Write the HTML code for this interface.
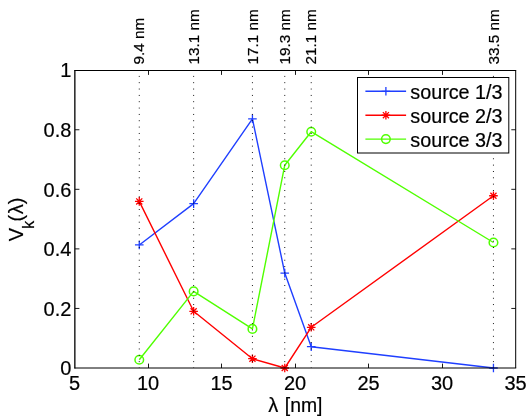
<!DOCTYPE html>
<html><head><meta charset="utf-8"><title>plot</title>
<style>html,body{margin:0;padding:0;background:#fff}svg{display:block}text{font-family:"Liberation Sans",sans-serif;fill:#000;stroke:#000;stroke-width:0.2px}</style></head>
<body>
<svg width="531" height="420" viewBox="0 0 531 420">
<rect width="531" height="420" fill="#fff"/>
<polyline points="139.27,244.95 193.64,203.60 252.43,118.80 284.76,273.10 311.22,346.70 493.45,368.00" fill="none" stroke="#1f3fff" stroke-width="1.4" stroke-linejoin="round"/>
<path d="M134.97 244.95H143.57M139.27 240.65V249.25" stroke="#1f3fff" stroke-width="1.3" fill="none"/>
<path d="M189.34 203.60H197.94M193.64 199.30V207.90" stroke="#1f3fff" stroke-width="1.3" fill="none"/>
<path d="M248.13 118.80H256.73M252.43 114.50V123.10" stroke="#1f3fff" stroke-width="1.3" fill="none"/>
<path d="M280.46 273.10H289.06M284.76 268.80V277.40" stroke="#1f3fff" stroke-width="1.3" fill="none"/>
<path d="M306.92 346.70H315.52M311.22 342.40V351.00" stroke="#1f3fff" stroke-width="1.3" fill="none"/>
<path d="M489.15 368.00H497.75M493.45 363.70V372.30" stroke="#1f3fff" stroke-width="1.3" fill="none"/>
<polyline points="139.27,201.40 193.64,311.30 252.43,358.70 284.76,368.00 311.22,327.30 493.45,195.75" fill="none" stroke="#ff0000" stroke-width="1.4" stroke-linejoin="round"/>
<path d="M134.97 201.40H143.57M139.27 197.10V205.70M136.22 198.36L142.31 204.44M136.22 204.44L142.31 198.36" stroke="#ff0000" stroke-width="1.3" fill="none"/>
<path d="M189.34 311.30H197.94M193.64 307.00V315.60M190.60 308.26L196.68 314.34M190.60 314.34L196.68 308.26" stroke="#ff0000" stroke-width="1.3" fill="none"/>
<path d="M248.13 358.70H256.73M252.43 354.40V363.00M249.39 355.66L255.47 361.74M249.39 361.74L255.47 355.66" stroke="#ff0000" stroke-width="1.3" fill="none"/>
<path d="M280.46 368.00H289.06M284.76 363.70V372.30M281.72 364.96L287.80 371.04M281.72 371.04L287.80 364.96" stroke="#ff0000" stroke-width="1.3" fill="none"/>
<path d="M306.92 327.30H315.52M311.22 323.00V331.60M308.18 324.26L314.26 330.34M308.18 330.34L314.26 324.26" stroke="#ff0000" stroke-width="1.3" fill="none"/>
<path d="M489.15 195.75H497.75M493.45 191.45V200.05M490.41 192.71L496.50 198.79M490.41 198.79L496.50 192.71" stroke="#ff0000" stroke-width="1.3" fill="none"/>
<polyline points="139.27,359.70 193.64,291.40 252.43,328.90 284.76,165.20 311.22,131.70 493.45,242.50" fill="none" stroke="#50ff00" stroke-width="1.4" stroke-linejoin="round"/>
<circle cx="139.27" cy="359.70" r="4.30" stroke="#50ff00" stroke-width="1.5" fill="none"/>
<circle cx="193.64" cy="291.40" r="4.30" stroke="#50ff00" stroke-width="1.5" fill="none"/>
<circle cx="252.43" cy="328.90" r="4.30" stroke="#50ff00" stroke-width="1.5" fill="none"/>
<circle cx="284.76" cy="165.20" r="4.30" stroke="#50ff00" stroke-width="1.5" fill="none"/>
<circle cx="311.22" cy="131.70" r="4.30" stroke="#50ff00" stroke-width="1.5" fill="none"/>
<circle cx="493.45" cy="242.50" r="4.30" stroke="#50ff00" stroke-width="1.5" fill="none"/>
<line x1="139.27" y1="368.0" x2="139.27" y2="70.5" stroke="#000" stroke-width="1" stroke-dasharray="0.9 5.44" stroke-dashoffset="0.45"/>
<line x1="193.64" y1="368.0" x2="193.64" y2="70.5" stroke="#000" stroke-width="1" stroke-dasharray="0.9 5.44" stroke-dashoffset="0.45"/>
<line x1="252.43" y1="368.0" x2="252.43" y2="70.5" stroke="#000" stroke-width="1" stroke-dasharray="0.9 5.44" stroke-dashoffset="0.45"/>
<line x1="284.76" y1="368.0" x2="284.76" y2="70.5" stroke="#000" stroke-width="1" stroke-dasharray="0.9 5.44" stroke-dashoffset="0.45"/>
<line x1="311.22" y1="368.0" x2="311.22" y2="70.5" stroke="#000" stroke-width="1" stroke-dasharray="0.9 5.44" stroke-dashoffset="0.45"/>
<line x1="493.45" y1="368.0" x2="493.45" y2="70.5" stroke="#000" stroke-width="1" stroke-dasharray="0.9 5.44" stroke-dashoffset="0.45"/>
<path d="M74.5 70.5H516.2M515.7 70.5V368.0M516.2 368.0H74.5" fill="none" stroke="#000" stroke-width="1"/>
<path d="M74.85 70.0V368.5" fill="none" stroke="#000" stroke-width="1.3"/>
<path d="M148.5 368.0v-4.4M148.5 70.5v4.4M221.5 368.0v-4.4M221.5 70.5v4.4M295.5 368.0v-4.4M295.5 70.5v4.4M368.5 368.0v-4.4M368.5 70.5v4.4M442.5 368.0v-4.4M442.5 70.5v4.4M75.0 308.44h4.4M515.7 308.44h-4.4M75.0 248.88h4.4M515.7 248.88h-4.4M75.0 189.32h4.4M515.7 189.32h-4.4M75.0 129.76h4.4M515.7 129.76h-4.4" stroke="#000" stroke-width="0.9" fill="none"/>
<text x="74.60" y="390.2" font-size="20" text-anchor="middle">5</text>
<text x="148.08" y="390.2" font-size="20" text-anchor="middle">10</text>
<text x="221.57" y="390.2" font-size="20" text-anchor="middle">15</text>
<text x="295.05" y="390.2" font-size="20" text-anchor="middle">20</text>
<text x="368.53" y="390.2" font-size="20" text-anchor="middle">25</text>
<text x="442.02" y="390.2" font-size="20" text-anchor="middle">30</text>
<text x="515.50" y="390.2" font-size="20" text-anchor="middle">35</text>
<text x="71.4" y="375.20" font-size="20" text-anchor="end">0</text>
<text x="71.4" y="315.64" font-size="20" text-anchor="end">0.2</text>
<text x="71.4" y="256.08" font-size="20" text-anchor="end">0.4</text>
<text x="71.4" y="196.52" font-size="20" text-anchor="end">0.6</text>
<text x="71.4" y="136.96" font-size="20" text-anchor="end">0.8</text>
<text x="71.4" y="77.40" font-size="20" text-anchor="end">1</text>
<text x="295.4" y="411.5" font-size="20" text-anchor="middle">λ<tspan dx="1.1" font-size="19.4"> [nm]</tspan></text>
<text transform="translate(23.3,241.2) rotate(-90)" font-size="20">V<tspan font-size="16" dy="10.6" dx="-1">k</tspan><tspan dy="-10.6" dx="-0.7">(</tspan><tspan dx="0.6">λ</tspan><tspan dx="0.1">)</tspan></text>
<text transform="translate(144.37,64.5) rotate(-90)" font-size="15.3">9.4 nm</text>
<text transform="translate(198.74,64.5) rotate(-90)" font-size="15.3">13.1 nm</text>
<text transform="translate(257.53,64.5) rotate(-90)" font-size="15.3">17.1 nm</text>
<text transform="translate(289.86,64.5) rotate(-90)" font-size="15.3">19.3 nm</text>
<text transform="translate(316.32,64.5) rotate(-90)" font-size="15.3">21.1 nm</text>
<text transform="translate(498.55,64.5) rotate(-90)" font-size="15.3">33.5 nm</text>
<rect x="357.5" y="77.5" width="151.3" height="75.5" fill="#fff" stroke="#000" stroke-width="1"/>
<line x1="365.4" y1="91.30" x2="406.1" y2="91.30" stroke="#1f3fff" stroke-width="1.4"/>
<path d="M381.60 91.30H390.20M385.90 87.00V95.60" stroke="#1f3fff" stroke-width="1.3" fill="none"/>
<text x="410.25" y="99.20" font-size="19.8">source 1/3</text>
<line x1="365.4" y1="115.20" x2="406.1" y2="115.20" stroke="#ff0000" stroke-width="1.4"/>
<path d="M381.60 115.20H390.20M385.90 110.90V119.50M382.86 112.16L388.94 118.24M382.86 118.24L388.94 112.16" stroke="#ff0000" stroke-width="1.3" fill="none"/>
<text x="410.25" y="122.85" font-size="19.8">source 2/3</text>
<line x1="365.4" y1="139.10" x2="406.1" y2="139.10" stroke="#50ff00" stroke-width="1.4"/>
<circle cx="385.90" cy="139.10" r="4.30" stroke="#50ff00" stroke-width="1.5" fill="none"/>
<text x="410.25" y="146.50" font-size="19.8">source 3/3</text>
</svg>
</body></html>
